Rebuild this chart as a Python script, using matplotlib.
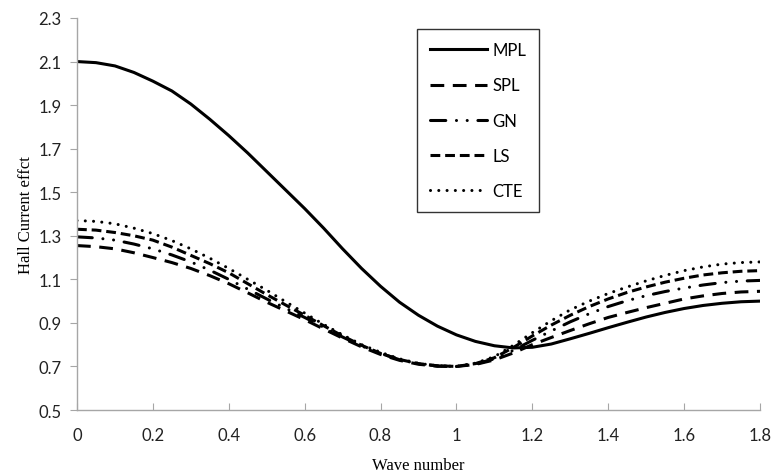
import numpy as np
import matplotlib
matplotlib.use('Agg')
import matplotlib.pyplot as plt

# wave number samples (step 0.05)
x = [0, 0.05, 0.1, 0.15, 0.2, 0.25, 0.3, 0.35, 0.4, 0.45, 0.5, 0.55, 0.6,
     0.65, 0.7, 0.75, 0.8, 0.85, 0.9, 0.95, 1.0, 1.05, 1.1, 1.15, 1.2,
     1.25, 1.3, 1.35, 1.4, 1.45, 1.5, 1.55, 1.6, 1.65, 1.7, 1.75, 1.8]

mpl_ = [2.10, 2.095, 2.08, 2.05, 2.01, 1.965, 1.905, 1.835, 1.76, 1.68, 1.595,
        1.51, 1.425, 1.335, 1.24, 1.15, 1.068, 0.995, 0.935, 0.885, 0.845,
        0.815, 0.795, 0.785, 0.788, 0.803, 0.827, 0.852, 0.878, 0.903, 0.927,
        0.948, 0.966, 0.98, 0.99, 0.997, 1.00]
spl = [1.255, 1.25, 1.24, 1.222, 1.20, 1.177, 1.15, 1.117, 1.08, 1.038, 0.995,
       0.955, 0.915, 0.872, 0.83, 0.79, 0.755, 0.728, 0.71, 0.701, 0.70,
       0.709, 0.73, 0.762, 0.80, 0.833, 0.865, 0.896, 0.925, 0.948, 0.97,
       0.99, 1.01, 1.024, 1.035, 1.042, 1.045]
gn = [1.295, 1.29, 1.28, 1.262, 1.24, 1.212, 1.18, 1.142, 1.10, 1.055, 1.01,
      0.967, 0.925, 0.88, 0.835, 0.794, 0.76, 0.731, 0.712, 0.702, 0.70,
      0.711, 0.735, 0.774, 0.82, 0.863, 0.905, 0.942, 0.975, 1.002, 1.025,
      1.044, 1.06, 1.074, 1.085, 1.092, 1.095]
ls = [1.33, 1.326, 1.315, 1.30, 1.28, 1.248, 1.21, 1.172, 1.13, 1.08, 1.03,
      0.982, 0.935, 0.887, 0.84, 0.797, 0.76, 0.732, 0.713, 0.703, 0.70,
      0.713, 0.74, 0.787, 0.84, 0.89, 0.935, 0.975, 1.01, 1.04, 1.065,
      1.087, 1.105, 1.12, 1.13, 1.137, 1.14]
cte = [1.37, 1.366, 1.355, 1.335, 1.31, 1.278, 1.24, 1.197, 1.15, 1.10, 1.05,
       0.997, 0.945, 0.893, 0.845, 0.80, 0.765, 0.735, 0.714, 0.703, 0.70,
       0.715, 0.745, 0.797, 0.855, 0.91, 0.96, 1.0, 1.035, 1.065, 1.093,
       1.118, 1.14, 1.157, 1.17, 1.177, 1.18]

xticks = [0, 0.2, 0.4, 0.6, 0.8, 1, 1.2, 1.4, 1.6, 1.8]
yticks = [0.5, 0.7, 0.9, 1.1, 1.3, 1.5, 1.7, 1.9, 2.1, 2.3]

fig = plt.figure(figsize=(7.72, 4.77), dpi=100)
ax = fig.add_axes([77/772, 1-411/477, (760-77)/772, (411-19)/477])

lw = 2.2
ax.plot(x, mpl_, color='black', lw=lw, label='MPL')
ax.plot(x, spl, color='black', lw=lw, ls=(0, (4.5, 2.8)), label='SPL')
ax.plot(x, gn, color='black', lw=lw, ls=(0, (5, 3.5, 0.01, 3.5, 0.01, 3.5)),
        dash_capstyle='round', label='GN')
ax.plot(x, ls, color='black', lw=lw, ls=(0, (3.2, 1.6)), label='LS')
ax.plot(x, cte, color='black', lw=lw, ls=(0, (0.01, 2.7)),
        dash_capstyle='round', label='CTE')

ax.set_xlim(0, 1.8)
ax.set_ylim(0.5, 2.3)
ax.set_xticks(xticks)
ax.set_xticklabels(['0', '0.2', '0.4', '0.6', '0.8', '1', '1.2', '1.4', '1.6', '1.8'])
ax.set_yticks(yticks)
ax.set_yticklabels(['%.1f' % v for v in yticks])

for s in ['top', 'right']:
    ax.spines[s].set_visible(False)
for s in ['left', 'bottom']:
    ax.spines[s].set_color('#a6a6a6')
    ax.spines[s].set_linewidth(1.0)
ax.tick_params(axis='y', direction='out', length=5, color='#a6a6a6', pad=6)
ax.tick_params(axis='x', direction='in', length=5, color='#a6a6a6', pad=12)
for t in ax.get_xticklabels() + ax.get_yticklabels():
    t.set_family('Lato')
    t.set_fontsize(12)
    t.set_color('#222222')

ax.set_xlabel('Wave number', family='Liberation Serif', fontsize=12, labelpad=10)
ax.set_ylabel('Hall Current effct', family='Liberation Serif', fontsize=12, labelpad=3)

leg = ax.legend(loc='upper left', bbox_to_anchor=(0.498, 0.972), borderaxespad=0,
                frameon=True, fancybox=False, edgecolor='black', handlelength=3.4,
                labelspacing=1.15, borderpad=0.8, handletextpad=0.3,
                prop={'family': 'Lato', 'size': 12})
leg.get_frame().set_linewidth(1.0)

fig.savefig('out.png', dpi=100)
